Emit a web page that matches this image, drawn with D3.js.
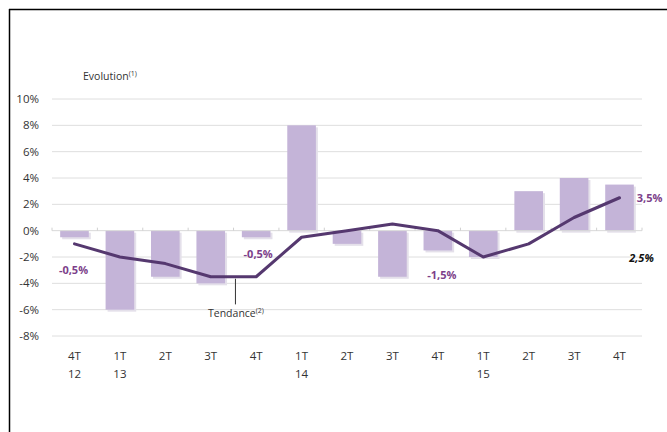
<!DOCTYPE html>
<html>
<head>
<meta charset="utf-8">
<script src="https://cdn.jsdelivr.net/npm/d3@7"></script>
<style>
  body { margin: 0; background: #fff; }
  svg { display: block; font-family: "Open Sans", "DejaVu Sans", sans-serif; }
</style>
</head>
<body>
<div id="chart"></div>
<script>
// quarters, two-line labels
const quarters = ["4T", "1T", "2T", "3T", "4T", "1T", "2T", "3T", "4T", "1T", "2T", "3T", "4T"];
const years = ["12", "13", "", "", "", "14", "", "", "", "15", "", "", ""];
// quarterly evolution (bars) and trend (line), in %
const evolution = [-0.5, -6, -3.5, -4, -0.5, 8, -1, -3.5, -1.5, -2, 3, 4, 3.5];
const tendance = [-1, -2, -2.5, -3.5, -3.5, -0.5, 0, 0.5, 0, -2, -1, 1, 2.5];
const yTicks = [10, 8, 6, 4, 2, 0, -2, -4, -6, -8];

const W = 667, H = 432;
const plotLeft = 52, plotRight = 642, plotTop = 99, plotBottom = 336;

const svg = d3.select("#chart").append("svg")
  .attr("width", W).attr("height", H);

// frame: top and left only
svg.append("line").attr("x1", 9).attr("x2", W).attr("y1", 9.5).attr("y2", 9.5)
  .attr("stroke", "#000").attr("stroke-width", 1.5);
svg.append("line").attr("x1", 9.5).attr("x2", 9.5).attr("y1", 9).attr("y2", H)
  .attr("stroke", "#000").attr("stroke-width", 1.5);

const idx = d3.range(quarters.length);
const x = d3.scaleBand().domain(idx).range([plotLeft, plotRight]).paddingInner(0.37).paddingOuter(0.18);
const y = d3.scaleLinear().domain([-8, 10]).range([plotBottom, plotTop]);

// gridlines
svg.append("g").selectAll("line").data(yTicks.filter(d => d !== 0)).enter()
  .append("line")
  .attr("x1", plotLeft).attr("x2", plotRight)
  .attr("y1", d => y(d)).attr("y2", d => y(d))
  .attr("stroke", "#dedede").attr("stroke-width", 1);

// y labels
svg.append("g").selectAll("text").data(yTicks).enter()
  .append("text")
  .attr("x", 39).attr("y", d => y(d) + 4)
  .attr("text-anchor", "end")
  .attr("font-size", 11.5).attr("fill", "#333")
  .text(d => d + "%");

// bar shadows + bars
const bars = svg.append("g");
bars.selectAll("rect.sh").data(evolution).enter().append("rect")
  .attr("class", "sh")
  .attr("x", (d, i) => x(i) + 2)
  .attr("y", d => Math.min(y(d), y(0)) + 2)
  .attr("width", x.bandwidth())
  .attr("height", d => Math.abs(y(d) - y(0)))
  .attr("fill", "#e4e0ea");
bars.selectAll("rect.bar").data(evolution).enter().append("rect")
  .attr("class", "bar")
  .attr("x", (d, i) => x(i))
  .attr("y", d => Math.min(y(d), y(0)))
  .attr("width", x.bandwidth())
  .attr("height", d => Math.abs(y(d) - y(0)))
  .attr("fill", "#c4b4d8");

// zero axis with small ticks between categories
svg.append("line").attr("x1", plotLeft).attr("x2", plotRight)
  .attr("y1", y(0)).attr("y2", y(0))
  .attr("stroke", "#d8d8d8");
svg.append("g").selectAll("line").data(d3.range(quarters.length + 1)).enter()
  .append("line")
  .attr("x1", i => plotLeft + i * (plotRight - plotLeft) / quarters.length)
  .attr("x2", i => plotLeft + i * (plotRight - plotLeft) / quarters.length)
  .attr("y1", y(0) - 3).attr("y2", y(0))
  .attr("stroke", "#d0d0d0");

// trend line
const cx = i => x(i) + x.bandwidth() / 2;
svg.append("path")
  .datum(tendance)
  .attr("d", d3.line().x((d, i) => cx(i)).y(d => y(d)))
  .attr("fill", "none")
  .attr("stroke", "#55386f")
  .attr("stroke-width", 3)
  .attr("stroke-linejoin", "round")
  .attr("stroke-linecap", "round");

// x labels
const xl = svg.append("g").selectAll("text").data(idx).enter()
  .append("text")
  .attr("x", i => cx(i))
  .attr("text-anchor", "middle")
  .attr("font-size", 11.5).attr("fill", "#333");
xl.append("tspan").attr("x", i => cx(i)).attr("y", 360).text(i => quarters[i]);
xl.append("tspan").attr("x", i => cx(i)).attr("y", 378).text(i => years[i]);

// title
const t = svg.append("text").attr("x", 83).attr("y", 80)
  .attr("font-size", 10.5).attr("fill", "#333");
t.append("tspan").text("Evolution");
t.append("tspan").attr("dy", -4).attr("font-size", 7).text("(1)");

// annotations
const purple = "#7d3f8a";
const notes = [
  { i: 0, v: -3.3, dx: -1, text: "-0,5%" },
  { i: 4, v: -2.1, dx: 2, text: "-0,5%" },
  { i: 8, v: -3.7, dx: 4, text: "-1,5%" }
];
svg.append("g").selectAll("text").data(notes).enter()
  .append("text")
  .attr("x", d => cx(d.i) + d.dx)
  .attr("y", d => y(d.v))
  .attr("text-anchor", "middle")
  .attr("font-size", 11).attr("font-weight", "bold").attr("fill", purple)
  .text(d => d.text);

const last = evolution.length - 1;
svg.append("text").attr("x", x(last) + x.bandwidth() + 3).attr("y", y(2.15))
  .attr("font-size", 11).attr("font-weight", "bold").attr("fill", purple)
  .text("3,5%");
svg.append("text").attr("x", x(last) + x.bandwidth() + 20).attr("y", y(-2.35))
  .attr("text-anchor", "end")
  .attr("font-size", 11).attr("font-weight", "bold").attr("font-style", "italic").attr("fill", "#111")
  .text("2,5%");

// Tendance leader
const lx = (cx(3) + cx(4)) / 2 + 2;
svg.append("line").attr("x1", lx).attr("x2", lx)
  .attr("y1", y(-3.5) + 2).attr("y2", y(-5.6))
  .attr("stroke", "#333").attr("stroke-width", 1);
const tt = svg.append("text").attr("x", 208).attr("y", 317)
  .attr("font-size", 10.5).attr("fill", "#333");
tt.append("tspan").text("Tendance");
tt.append("tspan").attr("dy", -4).attr("font-size", 7).text("(2)");
</script>
</body>
</html>
